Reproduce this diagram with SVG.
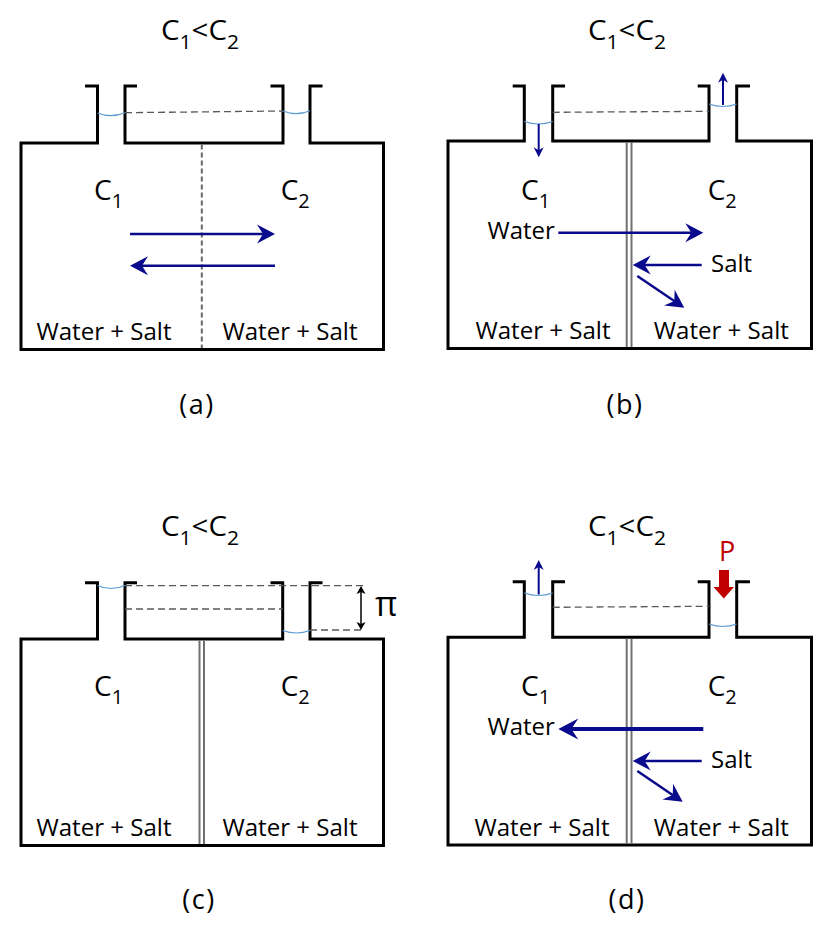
<svg xmlns="http://www.w3.org/2000/svg" width="834" height="938" viewBox="0 0 834 938">
<defs>
<style>
text{font-family:"Open Sans","Liberation Sans",sans-serif;fill:#000}
.t{font-size:28px}
.c{font-size:28px}
.ws{font-size:24px}
.lab{font-size:27px;letter-spacing:1.5px}
.w{fill:none;stroke:#000;stroke-width:3;stroke-linejoin:miter}
.dash{fill:none;stroke:#595959;stroke-width:1.3;stroke-dasharray:7 4}
.men{fill:none;stroke:#5B9BD5;stroke-width:1.2}
.mem{stroke:#707070;stroke-width:2}
.ar{fill:none;stroke:#0a0a8c;stroke-width:2.5;marker-end:url(#ah)}
.arL{fill:none;stroke:#0a0a8c;stroke-width:4;marker-end:url(#ahL)}
.arS{fill:none;stroke:#0a0a8c;stroke-width:2;marker-end:url(#ahS)}
</style>
<marker id="ah" markerUnits="userSpaceOnUse" markerWidth="24" markerHeight="24" viewBox="-20 -12 24 24" refX="-9" refY="0" orient="auto"><path d="M0,0 L-18,-9.5 L-12,0 L-18,9.5Z" fill="#0a0a8c"/></marker>
<marker id="ahL" markerUnits="userSpaceOnUse" markerWidth="26" markerHeight="26" viewBox="-22 -13 26 26" refX="-10" refY="0" orient="auto"><path d="M0,0 L-20,-10.5 L-13,0 L-20,10.5Z" fill="#0a0a8c"/></marker>
<marker id="ahS" markerUnits="userSpaceOnUse" markerWidth="14" markerHeight="14" viewBox="-12 -7 14 14" refX="-5" refY="0" orient="auto"><path d="M0,0 L-10,-5 L-7,0 L-10,5Z" fill="#0a0a8c"/></marker>
<marker id="ahK" markerUnits="userSpaceOnUse" markerWidth="12" markerHeight="12" viewBox="-10 -6 12 12" refX="-4" refY="0" orient="auto-start-reverse"><path d="M0,0 L-8,-4.5 L-6,0 L-8,4.5Z" fill="#000"/></marker>
</defs>
<rect width="834" height="938" fill="#fff"/>

<!-- Panel (a) -->
<g id="panel-a">
<text class="t" x="161" y="40" textLength="78" lengthAdjust="spacingAndGlyphs">C<tspan font-size="20" dy="9">1</tspan><tspan dy="-9">&lt;C</tspan><tspan font-size="20" dy="9">2</tspan></text>
<path class="w" d="M85,86 H97.5 V143 H21 V349.5 H383.5 V143 H310 V86 H322.5"/>
<path class="w" d="M137,86 H125 V143 H283 V86 H270.5"/>
<path class="dash" d="M125,112.7 L283,111"/>
<path class="men" d="M97.5,113 Q111,118.5 125,112.7"/>
<path class="men" d="M283,111 Q296.5,116.5 310,110.7"/>
<line x1="201.8" y1="144.5" x2="201.8" y2="348" stroke="#666" stroke-width="2" stroke-dasharray="5 3"/>
<text class="c" x="94" y="200">C<tspan font-size="20" dy="7.7">1</tspan></text>
<text class="c" x="280.7" y="200">C<tspan font-size="20" dy="7.7">2</tspan></text>
<text class="ws" x="36.5" y="340" textLength="135" lengthAdjust="spacingAndGlyphs">Water + Salt</text>
<text class="ws" x="222.5" y="340" textLength="135" lengthAdjust="spacingAndGlyphs">Water + Salt</text>
<text class="lab" x="197" y="414" text-anchor="middle">(a)</text>
</g>

<!-- Panel (b) -->
<g id="panel-b">
<text class="t" x="588" y="40" textLength="78" lengthAdjust="spacingAndGlyphs">C<tspan font-size="20" dy="9">1</tspan><tspan dy="-9">&lt;C</tspan><tspan font-size="20" dy="9">2</tspan></text>
<path class="w" d="M512.7,86 H524.3 V141 H448 V348.5 H811.5 V141 H736.7 V86 H750"/>
<path class="w" d="M565,86 H552.7 V141 H709 V86 H697.7"/>
<path class="dash" d="M552.7,112.3 L709,111.3"/>
<path class="men" d="M524.3,121.5 Q538.5,126.5 552.7,121.5"/>
<path class="men" d="M709,104 Q723,109 736.7,104"/>
<line class="mem" x1="626.7" y1="142.5" x2="626.7" y2="347"/>
<line class="mem" x1="631.5" y1="142.5" x2="631.5" y2="347"/>
<text class="c" x="521" y="200">C<tspan font-size="20" dy="7.7">1</tspan></text>
<text class="c" x="707.7" y="200">C<tspan font-size="20" dy="7.7">2</tspan></text>
<text class="ws" x="487.5" y="239">Water</text>
<text class="ws" x="711" y="272.3">Salt</text>
<text class="ws" x="475.5" y="339.3" textLength="135" lengthAdjust="spacingAndGlyphs">Water + Salt</text>
<text class="ws" x="653.8" y="339.3" textLength="135" lengthAdjust="spacingAndGlyphs">Water + Salt</text>
<text class="lab" x="625" y="414" text-anchor="middle">(b)</text>
</g>

<!-- Panel (c) -->
<g id="panel-c">
<text class="t" x="161" y="535.5" textLength="78" lengthAdjust="spacingAndGlyphs">C<tspan font-size="20" dy="9">1</tspan><tspan dy="-9">&lt;C</tspan><tspan font-size="20" dy="9">2</tspan></text>
<path class="w" d="M85,582.7 H97.5 V639 H21 V845.5 H383.5 V639 H310 V582.7 H322.5"/>
<path class="w" d="M137,582.7 H125 V639 H282.7 V582.7 H270.5"/>
<path class="dash" d="M125,585.7 H363"/>
<path class="dash" d="M125,609 H282.7"/>
<path class="dash" d="M310,630 H363"/>
<path class="men" d="M97.5,585.5 Q111,591.5 125,585.5"/>
<path class="men" d="M282.7,630.5 Q296.5,635.5 310,630.5"/>
<line class="mem" x1="199.5" y1="640.5" x2="199.5" y2="844"/>
<line class="mem" x1="204" y1="640.5" x2="204" y2="844"/>
<text class="c" x="94" y="696">C<tspan font-size="20" dy="7.7">1</tspan></text>
<text class="c" x="280.7" y="696">C<tspan font-size="20" dy="7.7">2</tspan></text>
<text class="ws" x="36.5" y="836" textLength="135" lengthAdjust="spacingAndGlyphs">Water + Salt</text>
<text class="ws" x="222.5" y="836" textLength="135" lengthAdjust="spacingAndGlyphs">Water + Salt</text>
<text x="375" y="615.5" font-family="'Liberation Serif',serif" font-size="34">π</text>
<text class="lab" x="199" y="909" text-anchor="middle">(c)</text>
</g>

<!-- Panel (d) -->
<g id="panel-d">
<text class="t" x="588" y="535.5" textLength="78" lengthAdjust="spacingAndGlyphs">C<tspan font-size="20" dy="9">1</tspan><tspan dy="-9">&lt;C</tspan><tspan font-size="20" dy="9">2</tspan></text>
<path class="w" d="M512.7,581.7 H524.3 V637.3 H448 V845 H811.5 V637.3 H736.7 V581.7 H750"/>
<path class="w" d="M565,581.7 H552.7 V637.3 H709 V581.7 H697.7"/>
<path class="dash" d="M552.7,607.3 L709,606.3"/>
<path class="men" d="M524.3,593 Q538.5,598 552.7,593"/>
<path class="men" d="M709,624 Q723,629 736.7,624"/>
<line class="mem" x1="626.7" y1="638.8" x2="626.7" y2="843.5"/>
<line class="mem" x1="631.5" y1="638.8" x2="631.5" y2="843.5"/>
<text x="719" y="560.5" font-size="27" style="fill:#C00000">P</text>
<polygon id="pressure" points="719,570 729,570 729,587 734,587 723.8,598.5 713.5,587 719,587" fill="#C00000"/>
<text class="c" x="521" y="696">C<tspan font-size="20" dy="7.7">1</tspan></text>
<text class="c" x="707.7" y="696">C<tspan font-size="20" dy="7.7">2</tspan></text>
<text class="ws" x="487.5" y="735">Water</text>
<text class="ws" x="711" y="767.7">Salt</text>
<text class="ws" x="474.5" y="836" textLength="135" lengthAdjust="spacingAndGlyphs">Water + Salt</text>
<text class="ws" x="653.8" y="836" textLength="135" lengthAdjust="spacingAndGlyphs">Water + Salt</text>
<text class="lab" x="627" y="909" text-anchor="middle">(d)</text>
</g>

<!-- Connectors -->
<g id="connectors">
<line class="ar" x1="130" y1="234" x2="266" y2="234"/>
<line class="ar" x1="275" y1="265.7" x2="139" y2="265.7"/>
<line class="ar" x1="558.3" y1="232.7" x2="694.3" y2="232.7"/>
<line class="ar" x1="701.7" y1="265" x2="641.7" y2="265"/>
<line class="ar" x1="637.3" y1="276" x2="676.8" y2="302.7"/>
<line class="arS" x1="538.7" y1="124" x2="538.7" y2="152.3"/>
<line class="arS" x1="723" y1="105" x2="723" y2="77.7"/>
<line x1="361" y1="590" x2="361" y2="626" stroke="#000" stroke-width="1.5" marker-start="url(#ahK)" marker-end="url(#ahK)"/>
<line class="arL" x1="703.3" y1="729" x2="568.3" y2="729"/>
<line class="ar" x1="701.7" y1="761" x2="641.7" y2="761"/>
<line class="ar" x1="637.3" y1="771" x2="675.2" y2="796.7"/>
<line class="arS" x1="538.7" y1="594.5" x2="538.7" y2="565"/>
</g>
</svg>
